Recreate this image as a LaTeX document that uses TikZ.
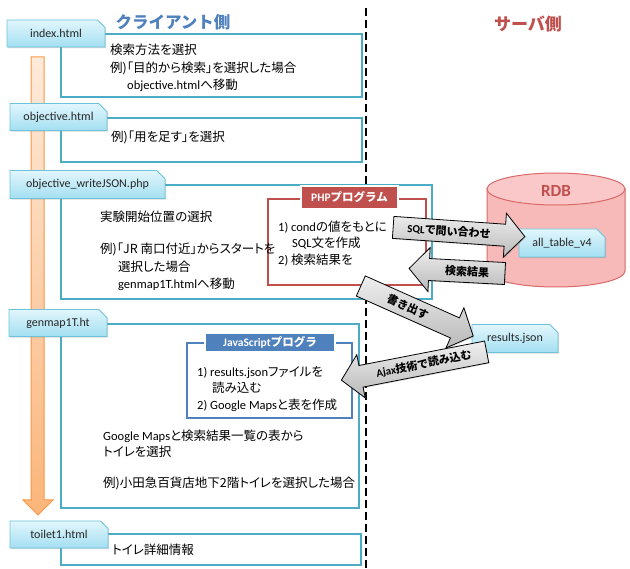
\documentclass[tikz,border=0pt]{standalone}
\usepackage{fontspec}
\setmainfont{Carlito}
\newfontfamily\jpfont{Noto Sans CJK JP}[RawFeature=+palt]
\newfontfamily\jpwide{Noto Sans CJK JP}
\newcommand\JJ[1]{{\jpfont #1}}
\newcommand\JW[1]{{\jpwide #1}}
\usetikzlibrary{shapes.misc,shadows,calc}
\definecolor{cyb}{HTML}{4BACC6}
\definecolor{redc}{HTML}{C0504D}
\definecolor{bluec}{HTML}{4F81BD}
\definecolor{tabtop}{HTML}{E2F6FC}
\definecolor{tabbot}{HTML}{A3DFF2}
\definecolor{tabline}{HTML}{6CC3DA}
\definecolor{orline}{HTML}{F79646}
\definecolor{ortop}{HTML}{FDEADA}
\definecolor{orbot}{HTML}{FBB57A}
\definecolor{pinkf}{HTML}{F8B9B9}
\definecolor{pinkt}{HTML}{FAC8C8}
\definecolor{pinkd}{HTML}{D9696A}
\definecolor{garrtop}{HTML}{EFEFEF}
\definecolor{garrbot}{HTML}{B9B9B9}
\tikzset{
  box/.style={draw=cyb, line width=2.2pt, fill=white, inner sep=0pt},
  tab/.style={chamfered rectangle, chamfered rectangle corners=north east,
    chamfered rectangle xsep=5pt, draw=tabline, line width=0.9pt,
    top color=tabtop, bottom color=tabbot, inner sep=0pt,
    drop shadow={opacity=0.3, shadow xshift=1.2pt, shadow yshift=-1.2pt},
    font=\fontsize{12}{14}\selectfont, text=black!85},
  txt/.style={anchor=west, inner sep=0pt, text height=9.5pt, text depth=0pt},
  lab/.style={draw=white, line width=2pt, text=white, inner sep=0pt,
    font=\bfseries\fontsize{11.5}{13}\selectfont,
    drop shadow={opacity=0.3, shadow xshift=1.2pt, shadow yshift=-1.2pt}},
  garr/.style={draw=black, line width=0.8pt, top color=garrtop, bottom color=garrbot,
    drop shadow={opacity=0.25, shadow xshift=1pt, shadow yshift=-1pt}},
  arrtxt/.style={inner sep=0pt, font=\bfseries\fontsize{11}{13}\selectfont},
  orarrow/.style={draw=orline, line width=1pt, top color=ortop, bottom color=orbot},
}
\newcommand\grayarr[7]{%
  \begin{scope}[shift={(#2,#3)},rotate=#4]
    \begin{scope}[xscale=#6]
      \path[garr] ({-#5/2},-11) -- ({#5/2-20},-11) -- ({#5/2-20},-22) -- ({#5/2},0)
        -- ({#5/2-20},22) -- ({#5/2-20},11) -- ({-#5/2},11) -- cycle;
    \end{scope}
    \node[arrtxt, rotate=#4] (#1) at ({-#6*10},0) {#7};
  \end{scope}}
\begin{document}
\begin{tikzpicture}[x=1pt,y=-1pt, font=\fontsize{12.5}{15}\selectfont]
\useasboundingbox (0,0) rectangle (630,569);

% separator
\coordinate (dtop) at (366,8);
\coordinate (dbot) at (366,569);
\draw[line width=2.2pt, dash pattern=on 8pt off 4pt] (dtop) -- (dbot);

% titles
\node[font=\bfseries\fontsize{16.5}{18}\selectfont, text=bluec] (tclient) at (173,22) {\JW{クライアント側}};
\node[font=\bfseries\fontsize{17}{18}\selectfont, text=redc] (tserver) at (528,24) {\JW{サーバ側}};

% orange flow arrow
\path[orarrow] (31,57) -- (44,57) -- (44,500) -- (53,500) -- (38,515) -- (23,500) -- (31,500) -- cycle;

% content boxes
\node[box, minimum width=301pt, minimum height=63pt] (bindex) at (211.5,65.5) {};
\node[box, minimum width=301pt, minimum height=44pt] (bobj) at (211.5,140) {};
\node[box, minimum width=371pt, minimum height=114pt] (bjson) at (246.5,242) {};
\node[box, minimum width=298pt, minimum height=184pt] (bgen) at (210,416) {};
\node[box, minimum width=300pt, minimum height=31pt] (btoilet) at (211,549.5) {};

% program frames
\node[draw=redc, line width=2pt, inner sep=0pt, minimum width=158pt, minimum height=86pt] (fphp) at (347,242) {};
\node[draw=bluec, line width=2.2pt, inner sep=0pt, minimum width=165pt, minimum height=75pt] (fjs) at (269.5,380.5) {};
\node[lab, fill=redc, minimum width=97pt, minimum height=23pt] (lphp) at (349.5,197.5) {PHP\JW{プログラム}};
\node[lab, fill=bluec, minimum width=130pt, minimum height=19pt] (ljs) at (270,342.5) {JavaScript\JW{プログラ}};

% texts
\node[txt] (i1) at (110,50) {\JJ{検索方法を選択}};
\node[txt] (i2) at (110,68) {\JJ{例)「目的から検索」を選択した場合}};
\node[txt] (i3) at (127,85) {objective.html\JJ{へ移動}};
\node[txt] (o1) at (111,137) {\JJ{例)「用を足す」を選択}};
\node[txt] (j1) at (100,217) {\JJ{実験開始位置の選択}};
\node[txt] (j2) at (100,249) {\JJ{例)「JR 南口付近」からスタートを}};
\node[txt] (j3) at (118,267) {\JJ{選択した場合}};
\node[txt] (j4) at (118,284) {genmap1T.html\JJ{へ移動}};
\node[txt] (p1) at (278,227) {1) cond\JJ{の値をもとに}};
\node[txt] (p2) at (292,243) {SQL\JJ{文を作成}};
\node[txt] (p3) at (278,260) {2) \JJ{検索結果を}};
\node[txt] (s1) at (197,372) {1) results.json\JJ{ファイルを}};
\node[txt] (s2) at (212,388) {\JJ{読み込む}};
\node[txt] (s3) at (197,405) {2) Google Maps\JJ{と表を作成}};
\node[txt] (g1) at (103,436) {Google Maps\JJ{と検索結果一覧の表から}};
\node[txt] (g2) at (103,452) {\JJ{トイレを選択}};
\node[txt] (g3) at (103,483) {\JJ{例)小田急百貨店地下2階トイレを選択した場合}};
\node[txt] (t1) at (112,550) {\JJ{トイレ詳細情報}};

% RDB cylinder
\path[draw=pinkd, line width=1pt, fill=pinkf] (487,189) -- (487,271)
  arc[start angle=180, end angle=360, x radius=69pt, y radius=16pt] -- (625,189) -- cycle;
\draw[draw=pinkd, line width=1pt, fill=pinkt] (556,189) ellipse[x radius=69pt, y radius=16pt];
\node[font=\bfseries\fontsize{17}{18}\selectfont, text=redc] (rdb) at (556,191) {RDB};

% tabs
\node[tab, minimum width=98pt, minimum height=27pt] (tindex) at (56,33.5) {index.html};
\node[tab, minimum width=97pt, minimum height=27pt] (tobj) at (58.5,117) {objective.html};
\node[tab, minimum width=155pt, minimum height=28pt] (tjson) at (87.5,184.5) {objective\_writeJSON.php};
\node[tab, minimum width=98pt, minimum height=27pt] (tgen) at (58,323) {genmap1T.ht};
\node[tab, minimum width=98pt, minimum height=27pt] (ttoilet) at (59,534.5) {toilet1.html};
\node[tab, minimum width=86pt, minimum height=28pt] (tres) at (515,338.5) {results.json};
\node[tab, minimum width=86pt, minimum height=28pt] (ttable) at (562,243) {all\_table\_v4};

% gray block arrows
\grayarr{asql}{459}{232}{-4}{132}{1}{SQL\JW{で問い合わせ}}
\grayarr{akekka}{457}{271}{-3}{96}{-1}{\JW{検索結果}}
\grayarr{akaki}{417}{311}{-24}{123}{1}{\JW{書き出す}}
\grayarr{aajax}{414}{366}{11}{148}{-1}{Ajax\JW{技術で読み込む}}
\end{tikzpicture}
\end{document}
